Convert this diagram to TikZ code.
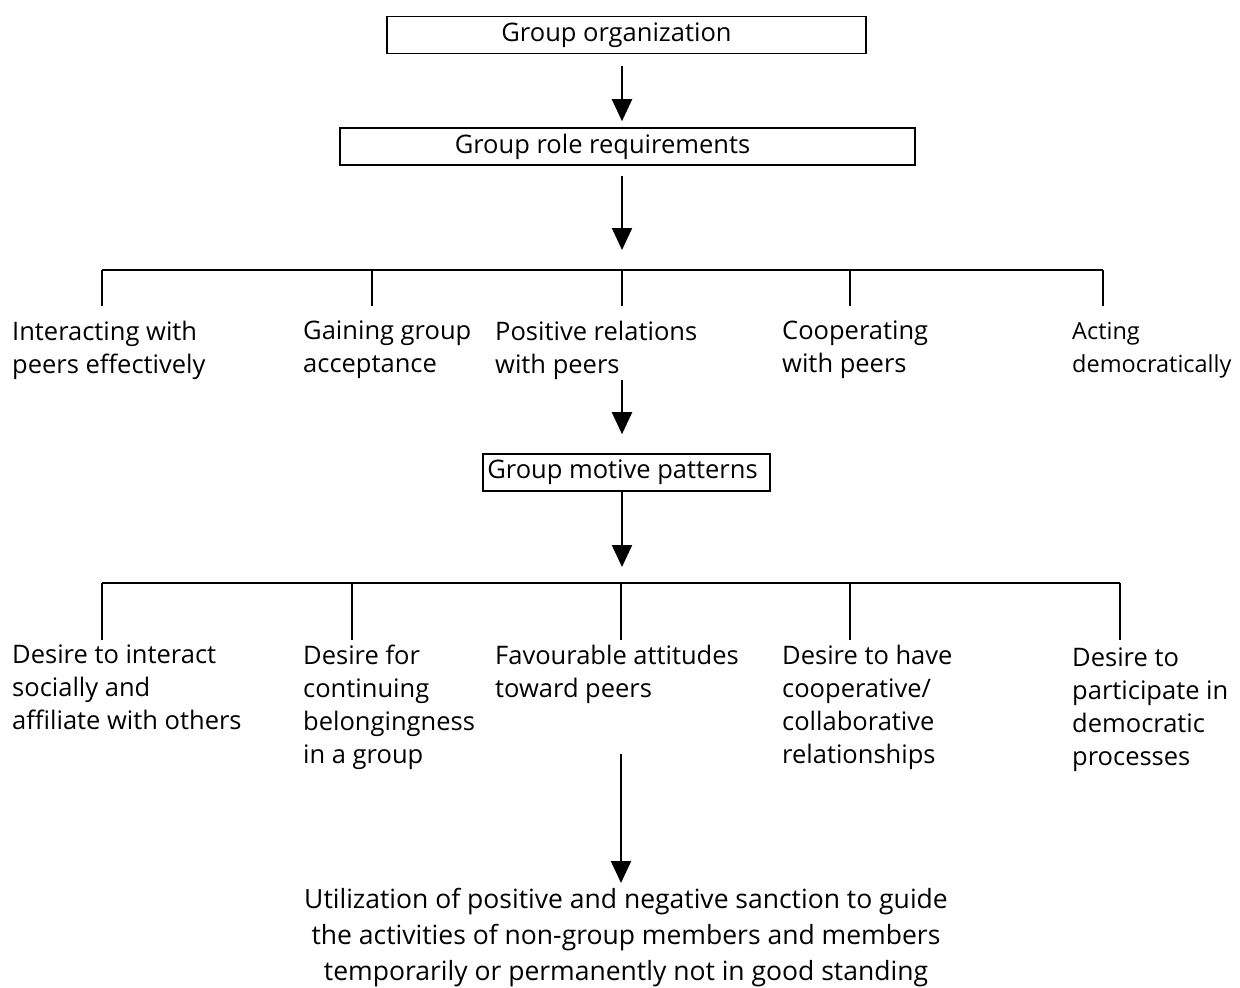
\documentclass[tikz,border=0pt]{standalone}
\usepackage{fontspec}
\setmainfont{Open Sans}
\usetikzlibrary{arrows.meta}
\begin{document}
\begin{tikzpicture}[x=1pt,y=-1pt,
  every node/.style={font=\fontsize{25.5}{33}\selectfont, inner sep=0pt},
  box/.style={draw, line width=1.6pt, minimum height=37pt},
  lab/.style={anchor=north west, align=left},
  ln/.style={line width=1.8pt},
  arr/.style={line width=2.2pt, -{Triangle[width=20pt,length=22pt]}}]
\useasboundingbox (0,0) rectangle (1240,988);
\coordinate (spine) at (622,0);
% boxes
\node[box, minimum width=479pt] (b1) at (626.5,35) {Group organization\hspace*{20pt}};
\node[box, minimum width=575pt] (b2) at (627.5,146.5) {Group role requirements\hspace*{50pt}};
\node[box, minimum width=287pt] (b3) at (626.5,472.5) {Group motive patterns\hspace*{8pt}};
% bus coordinates
\coordinate (t1) at (622,270);
\coordinate (t2) at (622,583);
\foreach \n/\x in {1/102,2/372,3/622,4/850,5/1103}{\coordinate (da\n) at (\x,270);}
\foreach \n/\x in {1/102,2/352,3/621,4/850,5/1120}{\coordinate (db\n) at (\x,583);}
% row 1 labels
\node[lab] (r1) at (12,321) {Interacting with\\peers effectively};
\node[lab] (r2) at (303,321) {Gaining group\\acceptance};
\node[lab] (r3) at (495,321) {Positive relations\\with peers};
\node[lab] (r4) at (782,321) {Cooperating\\with peers};
\node[lab, font=\fontsize{23.5}{33}\selectfont] (r5) at (1072,322) {Acting\\democratically};
% row 2 labels
\node[lab] (s1) at (12,645) {Desire to interact\\socially and\\affiliate with others};
\node[lab] (s2) at (303,645) {Desire for\\continuing\\belongingness\\in a group};
\node[lab] (s3) at (495,645) {Favourable attitudes\\toward peers};
\node[lab] (s4) at (782,645) {Desire to have\\cooperative/\\collaborative\\relationships};
\node[lab] (s5) at (1072,648) {Desire to\\participate in\\democratic\\processes};
% bottom
\node[anchor=north, align=center, font=\fontsize{26.5}{36}\selectfont] (u) at (626,888)
  {Utilization of positive and negative sanction to guide\\the activities of non-group members and members\\temporarily or permanently not in good standing};
% arrows
\draw[arr, shorten <=12pt, shorten >=6pt] (b1.south -| spine) -- (b2.north -| spine);
\draw[arr, shorten <=10pt, shorten >=20pt] (b2.south -| spine) -- (t1);
\draw[arr, shorten >=19pt] (r3.south -| spine) -- (b3.north -| spine);
\draw[arr, shorten >=16pt] (b3.south -| spine) -- (t2);
\draw[arr, shorten <=50pt, shorten >=5pt] (s3.south -| db3) -- (u.north -| db3);
% buses
\draw[ln] (da1) -- (da5);
\foreach \n in {1,...,5}{\draw[ln] (da\n) -- ++(0,36);}
\draw[ln] (db1) -- (db5);
\foreach \n in {1,...,5}{\draw[ln] (db\n) -- ++(0,57);}
\end{tikzpicture}
\end{document}
